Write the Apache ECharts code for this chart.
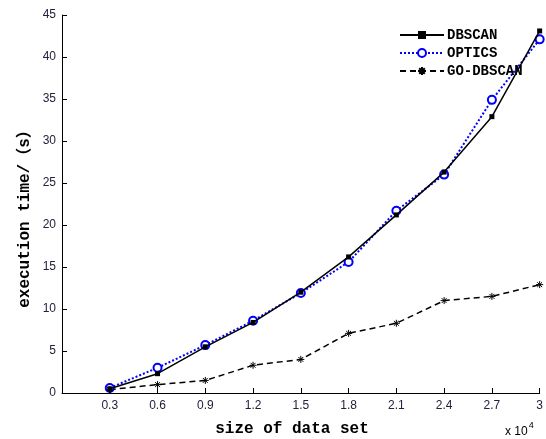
<!DOCTYPE html>
<html>
<head>
<meta charset="utf-8">
<script src="https://cdn.jsdelivr.net/npm/echarts@6/dist/echarts.min.js"></script>
<style>
  html, body { margin: 0; padding: 0; background: #fff; }
  #main { width: 546px; height: 439px; }
</style>
</head>
<body>
<div id="main"></div>
<script>
// data size (x 10^4)
var sizes = [0.3, 0.6, 0.9, 1.2, 1.5, 1.8, 2.1, 2.4, 2.7, 3];
// execution time (s)
var dbscan   = [0.5, 2.3, 5.5, 8.4, 12.0, 16.2, 21.2, 26.3, 32.9, 43.1];
var optics   = [0.6, 3.0, 5.7, 8.6, 11.9, 15.6, 21.7, 26.0, 34.9, 42.1];
var goDbscan = [0.4, 1.0, 1.5, 3.3, 4.0, 7.1, 8.3, 11.0, 11.5, 12.9];
var seriesNames = ['DBSCAN', 'OPTICS', 'GO-DBSCAN'];

function pairs(ys) {
  return sizes.map(function (x, i) { return [x, ys[i]]; });
}

var myChart = echarts.init(document.getElementById('main'));
var monoFamily = '"Liberation Mono", "Noto Sans CJK SC", monospace';
var tickFont = { fontFamily: '"Liberation Sans", Arial, sans-serif', fontSize: 12, color: '#22223a' };

var option = {
  backgroundColor: '#fff',
  animation: false,
  grid: { left: 62, right: 5, top: 15, bottom: 46 },
  // legend top right
  legend: {
    orient: 'vertical',
    left: 394,
    top: 23,
    itemWidth: 44,
    itemHeight: 10,
    itemGap: 4,
    data: seriesNames,
    textStyle: { fontFamily: monoFamily, fontWeight: 'bold', fontSize: 14, color: '#000', padding: [0, 0, 0, -2] }
  },
  xAxis: {
    type: 'value',
    min: 0,
    max: 3,
    interval: 0.3,
    splitLine: { show: false },
    axisLine: { lineStyle: { color: '#000', width: 1 } },
    axisTick: { inside: true, length: 5, lineStyle: { color: '#000' } },
    axisLabel: Object.assign({
      margin: 7,
      formatter: function (v) {
        if (v < 0.01) return '';
        if (Math.abs(v - 3) < 0.01) return '3';
        return v.toFixed(1);
      }
    }, tickFont)
  },
  yAxis: {
    type: 'value',
    min: 0,
    max: 45,
    interval: 5,
    splitLine: { show: false },
    axisLine: { show: true, lineStyle: { color: '#000', width: 1 } },
    axisTick: { show: true, inside: true, length: 5, lineStyle: { color: '#000' } },
    axisLabel: Object.assign({ margin: 6 }, tickFont)
  },
  graphic: [
    // x axis title
    {
      type: 'text', x: 292, y: 429,
      style: {
        text: 'size of data set', fontFamily: monoFamily, fontWeight: 'bold', fontSize: 16,
        fill: '#000', textAlign: 'center', textVerticalAlign: 'middle'
      }
    },
    // y axis title
    {
      type: 'text', x: 25, y: 215,
      rotation: Math.PI / 2,
      style: {
        text: 'execution time/（s）', fontFamily: monoFamily, fontWeight: 'bold', fontSize: 16,
        fill: '#000', textAlign: 'center', textVerticalAlign: 'middle'
      }
    },
    // x10^4 multiplier
    {
      type: 'text', left: 505, top: 421,
      style: {
        text: '{a|x 10}{b|4}',
        rich: {
          a: { fontFamily: '"Liberation Sans", Arial, sans-serif', fontSize: 12, color: '#22223a', verticalAlign: 'bottom' },
          b: { fontFamily: '"Liberation Sans", Arial, sans-serif', fontSize: 9, color: '#22223a', padding: [0, 0, 8, 1] }
        }
      }
    }
  ],
  series: [
    {
      name: 'DBSCAN', type: 'line', data: pairs(dbscan),
      symbol: 'rect', symbolSize: 5,
      lineStyle: { color: '#000', width: 1.5 },
      itemStyle: { color: '#000' },
      z: 3
    },
    {
      name: 'OPTICS', type: 'line', data: pairs(optics),
      symbol: 'circle', symbolSize: 8,
      lineStyle: { color: '#0000ff', width: 2, type: [2, 2] },
      itemStyle: { color: '#fff', borderColor: '#0000ff', borderWidth: 2 },
      z: 2
    },
    {
      name: 'GO-DBSCAN', type: 'line', data: pairs(goDbscan),
      symbol: 'path://M0,-5L0,5M-5,0L5,0M-3.5,-3.5L3.5,3.5M-3.5,3.5L3.5,-3.5',
      symbolSize: 7,
      lineStyle: { color: '#000', width: 1.5, type: [6, 4] },
      itemStyle: { color: '#000', borderColor: '#000', borderWidth: 1 },
      z: 2
    }
  ]
};
myChart.setOption(option);
</script>
</body>
</html>
